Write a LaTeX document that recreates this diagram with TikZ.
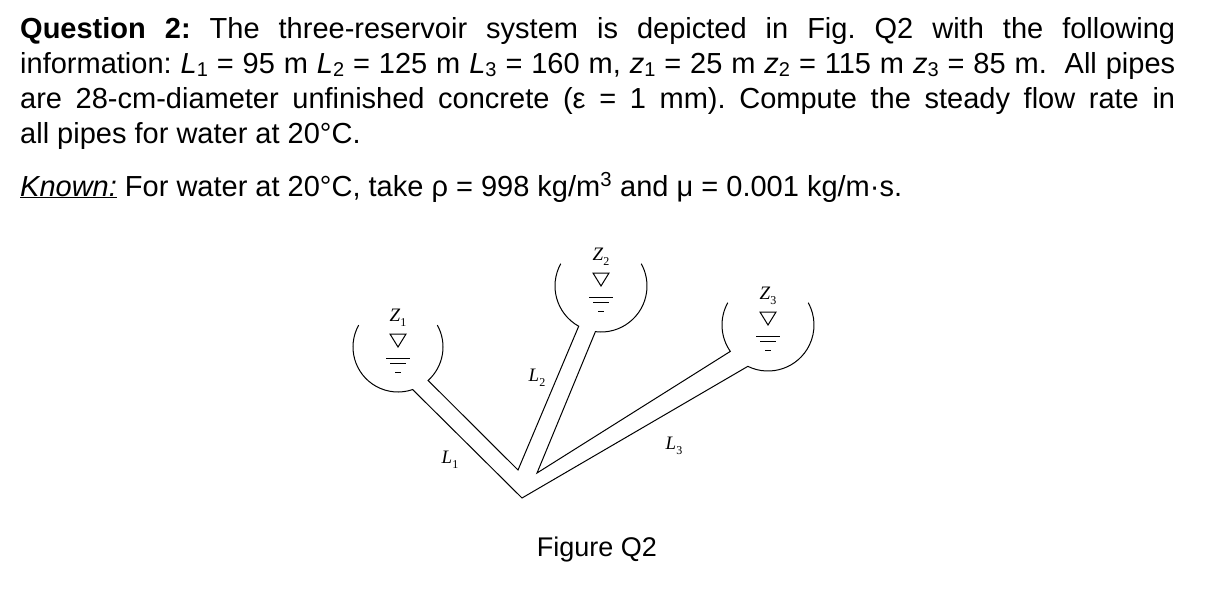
\documentclass[tikz,border=0pt]{standalone}
\usepackage{fontspec}
\setmainfont{Liberation Sans}
\newfontfamily\figserif{Liberation Serif}
\usetikzlibrary{calc}
\frenchspacing
\newcommand{\lsub}[1]{\raisebox{-0.12em}{\fontsize{20}{20}\selectfont #1}}
\newcommand{\jline}[1]{\hbox to 1155pt{#1}}
\newcommand{\fsub}[1]{\raisebox{-0.25em}{\upshape\fontsize{12}{12}\selectfont #1}}
\tikzset{
  txt/.style={anchor=base west, inner sep=0pt, font=\fontsize{29}{35}\selectfont},
  wall/.style={line width=1pt, line join=miter},
  flab/.style={inner sep=0pt, font=\figserif\itshape\fontsize{19}{19}\selectfont},
  wsym/.style={line width=1pt}
}
\begin{document}
\begin{tikzpicture}[x=1pt,y=1pt]
\useasboundingbox (0,0) rectangle (1220,-598);
\node[txt] (t1) at (20,-38) {\jline{\textbf{Question 2:} The three-reservoir system is depicted in Fig. Q2 with the following}};
\node[txt] (t2) at (20,-73) {\jline{information: \textit{L}\lsub{1} = 95 m \textit{L}\lsub{2} = 125 m \textit{L}\lsub{3} = 160 m, \textit{z}\lsub{1} = 25 m \textit{z}\lsub{2} = 115 m \textit{z}\lsub{3} = 85 m.\ \ All pipes}};
\node[txt] (t3) at (20,-108) {\jline{are 28-cm-diameter unfinished concrete (ε = 1 mm). Compute the steady flow rate in}};
\node[txt] (t4) at (20,-143) {all pipes for water at 20°C.};
\node[txt] (t5) at (20,-196) {\underline{\textit{Known:}} For water at 20°C, take ρ = 998 kg/m\textsuperscript{3} and μ = 0.001 kg/m·s.};
% reservoirs
\coordinate (c1) at (398,-347);
\coordinate (c2) at (601,-286);
\coordinate (c3) at (768,-325);
\coordinate (V) at (522,-498);
\coordinate (N1) at (518,-470);
\coordinate (N2) at (537,-473);
\draw[wall] ($(c1)+(151:45pt)$) arc[start angle=151,end angle=289,radius=45pt] -- (V) -- ($(c3)+(244:46pt)$) arc[start angle=244,end angle=389,radius=46pt];
\draw[wall] ($(c3)+(151:46pt)$) arc[start angle=151,end angle=215,radius=46pt] -- (N2) -- ($(c2)+(263:46pt)$) arc[start angle=263,end angle=389,radius=46pt];
\draw[wall] ($(c2)+(151:46pt)$) arc[start angle=151,end angle=241,radius=46pt] -- (N1) -- ($(c1)+(312:45pt)$) arc[start angle=312,end angle=389,radius=45pt];
% water symbols and labels
\foreach \c/\n/\k in {c1/1/z1,c2/2/z2,c3/3/z3}{
  \draw[wsym] ($(\c)+(-8,13)$) -- ($(\c)+(8,13)$) -- ($(\c)+(0,0)$) -- cycle;
  \draw[wsym] ($(\c)+(-12,-11)$) -- ($(\c)+(12,-11)$);
  \draw[wsym] ($(\c)+(-8,-16)$) -- ($(\c)+(8,-16)$);
  \draw[wsym] ($(\c)+(-3,-25)$) -- ($(\c)+(3,-25)$);
  \node[flab] (\k) at ($(\c)+(0,29)$) {Z\fsub{\n}};
}
\node[flab] (l1) at (450,-460) {L\fsub{1}};
\node[flab] (l2) at (537,-378) {L\fsub{2}};
\node[flab] (l3) at (674,-446) {L\fsub{3}};
\node[inner sep=0pt, anchor=base, font=\fontsize{27}{30}\selectfont] (fig) at (597,-556) {Figure Q2};
\end{tikzpicture}
\end{document}
